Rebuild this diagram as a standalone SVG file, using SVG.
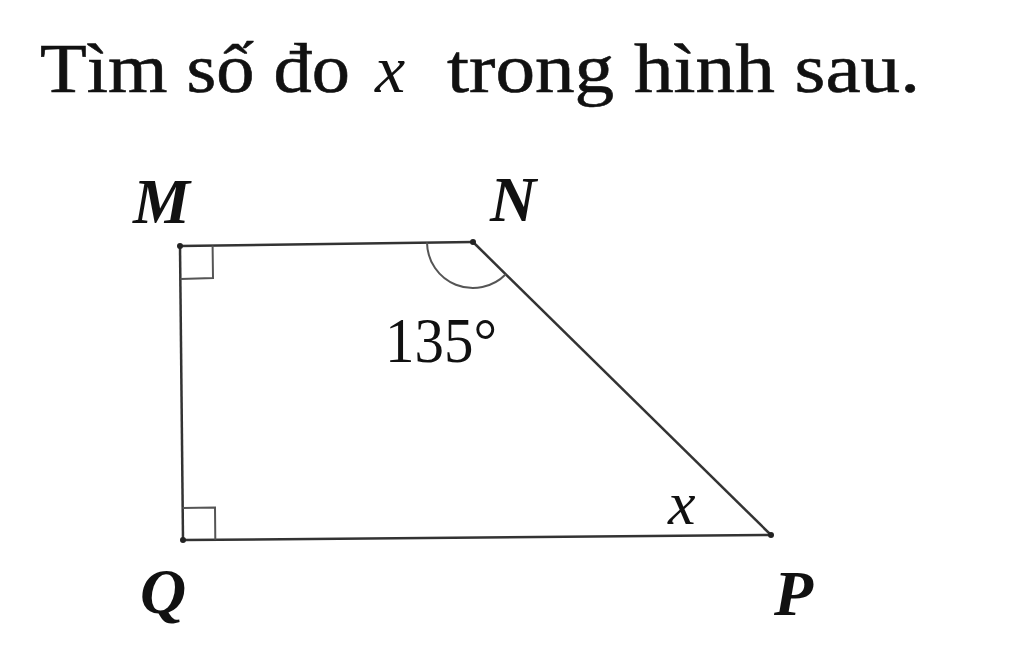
<svg xmlns="http://www.w3.org/2000/svg" width="1024" height="653" viewBox="0 0 1024 653">
<style>
.t{font-family:"Liberation Serif","DejaVu Serif",serif;fill:#111}
.lbl{font-family:"Liberation Serif","DejaVu Serif",serif;font-style:italic;font-weight:bold;font-size:64px;fill:#111}
.edge{stroke:#333;stroke-width:2.5;fill:none}
.mark{stroke:#555;stroke-width:2;fill:none}
.dot{fill:#222}
</style>
<rect width="1024" height="653" fill="#fff"/>
<g id="title">
<text class="t" x="40" y="92" font-size="70" stroke="#111" stroke-width="0.6" textLength="310" lengthAdjust="spacingAndGlyphs">Tìm số đo</text>
<text class="t" x="375" y="92" font-size="68" font-style="italic">x</text>
<text class="t" x="447" y="92" font-size="70" stroke="#111" stroke-width="0.6" textLength="473" lengthAdjust="spacingAndGlyphs">trong hình sau.</text>
</g>
<g id="connectors">
<line class="edge" x1="180" y1="246" x2="473" y2="242"/>
<line class="edge" x1="473" y1="242" x2="771" y2="535"/>
<line class="edge" x1="771" y1="535" x2="183" y2="540"/>
<line class="edge" x1="183" y1="540" x2="180" y2="246"/>
</g>
<g id="marks">
<path class="mark" d="M180.4,279 L213,278 L212.6,245.6"/>
<path class="mark" d="M182.6,508 L215,507.6 L215.3,539.7"/>
<path class="mark" d="M427,242.6 A46,46 0 0 0 505.8,274.3"/>
</g>
<g id="M"><circle class="dot" cx="180" cy="246" r="3"/><text class="lbl" x="133" y="223">M</text></g>
<g id="N"><circle class="dot" cx="473" cy="242" r="3"/><text class="lbl" x="490" y="221">N</text></g>
<g id="P"><circle class="dot" cx="771" cy="535" r="3"/><text class="lbl" x="774" y="615">P</text></g>
<g id="Q"><circle class="dot" cx="183" cy="540" r="3"/><text class="lbl" x="140" y="613">Q</text></g>
<g id="angleN"><text class="t" x="385" y="362" font-size="64" textLength="112" lengthAdjust="spacingAndGlyphs">135°</text></g>
<g id="angleP"><text class="t" x="668" y="524" font-size="62" font-style="italic">x</text></g>
</svg>
